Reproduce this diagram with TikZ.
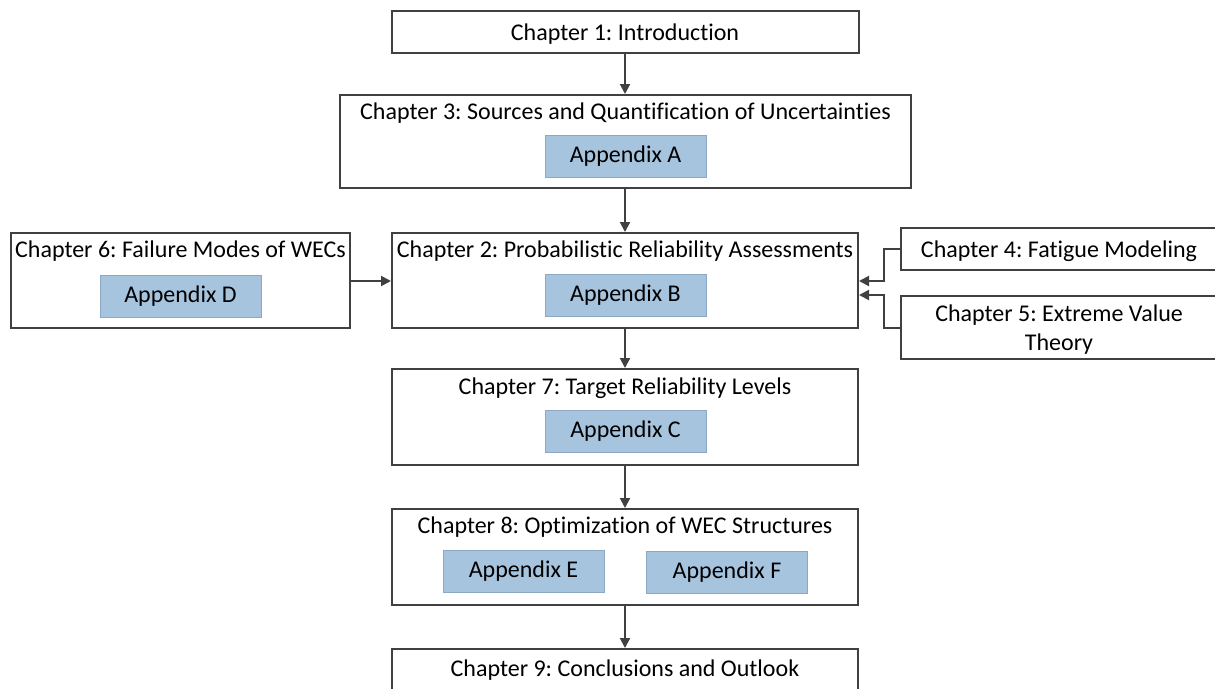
\documentclass[tikz,border=0pt]{standalone}
\usepackage{fontspec}
\setmainfont[Ligatures=NoCommon]{Carlito}
\usetikzlibrary{arrows.meta}
\definecolor{linegray}{HTML}{404040}
\definecolor{appfill}{HTML}{A7C4DE}
\definecolor{appline}{HTML}{8DA8C2}
\frenchspacing
\begin{document}
\begin{tikzpicture}[x=1pt,y=-1pt,
  chapbox/.style={draw=linegray, line width=2pt, fill=white, inner sep=0pt},
  appbox/.style={draw=appline, line width=1pt, fill=appfill, inner sep=0pt,
    minimum width=161pt, minimum height=42pt, font=\fontsize{24}{29}\selectfont},
  title/.style={inner sep=0pt, yshift=-2pt, font=\fontsize{24}{29}\selectfont, align=center},
  conn/.style={draw=linegray, line width=2pt, -{Triangle[length=10pt,width=10pt]}}
]
\useasboundingbox (0,0) rectangle (1215,688);
\clip (0,0) rectangle (1215,688);
\fill[white] (0,0) rectangle (1215,688);

% chapter boxes with their titles and appendix boxes
\node[chapbox, minimum width=467pt, minimum height=42pt] (ch1) at (625,32) {};
\node[title] (t1) at (ch1.center) {Chapter 1: Introduction};

\node[chapbox, minimum width=571pt, minimum height=93pt] (ch3) at (625.5,141.5) {};
\node[title] (t3) at (625.5,111) {Chapter 3: Sources and Quantification of Uncertainties};
\node[appbox] (appA) at (625.5,156.5) {Appendix A};

\node[chapbox, minimum width=466pt, minimum height=95pt] (ch2) at (625,280.5) {};
\node[title] (t2) at (625,249) {Chapter 2: Probabilistic Reliability Assessments};
\node[appbox] (appB) at (625.5,295.5) {Appendix B};

\node[chapbox, minimum width=339pt, minimum height=95pt] (ch6) at (180.5,280.5) {};
\node[title] (t6) at (180.5,249) {Chapter 6: Failure Modes of WECs};
\node[appbox] (appD) at (180.5,296.5) {Appendix D};

\node[chapbox, minimum width=340pt, minimum height=42pt] (ch4) at (1071,249) {};
\node[title] (t4) at (1059,249) {Chapter 4: Fatigue Modeling};

\node[chapbox, minimum width=340pt, minimum height=63pt] (ch5) at (1071,327.5) {};
\node[title] (t5) at (1059,327.5) {Chapter 5: Extreme Value\\Theory};

\node[chapbox, minimum width=466pt, minimum height=96pt] (ch7) at (625,417) {};
\node[title] (t7) at (625,386) {Chapter 7: Target Reliability Levels};
\node[appbox] (appC) at (625.5,431) {Appendix C};

\node[chapbox, minimum width=466pt, minimum height=96pt] (ch8) at (625,557) {};
\node[title] (t8) at (625,525) {Chapter 8: Optimization of WEC Structures};
\node[appbox] (appE) at (523.5,571) {Appendix E};
\node[appbox] (appF) at (727,572) {Appendix F};

\node[chapbox, minimum width=466pt, minimum height=60pt] (ch9) at (625,679) {};
\node[title] (t9) at (625,668) {Chapter 9: Conclusions and Outlook};

% connectors
\draw[conn] (ch1.south) -- (ch3.north -| ch1.south);
\draw[conn] (ch3.south -| ch2.north) -- (ch2.north);
\draw[conn] (ch6.east |- 0,281) -- (ch2.west |- 0,281);
\draw[conn] (ch4.west) -- (884,249) -- (884,281) -- (ch2.east |- 0,281);
\draw[conn] (ch5.west) -- (884,327.5) -- (884,295) -- (ch2.east |- 0,295);
\draw[conn] (ch2.south) -- (ch7.north);
\draw[conn] (ch7.south) -- (ch8.north);
\draw[conn] (ch8.south) -- (ch9.north);
\end{tikzpicture}
\end{document}
